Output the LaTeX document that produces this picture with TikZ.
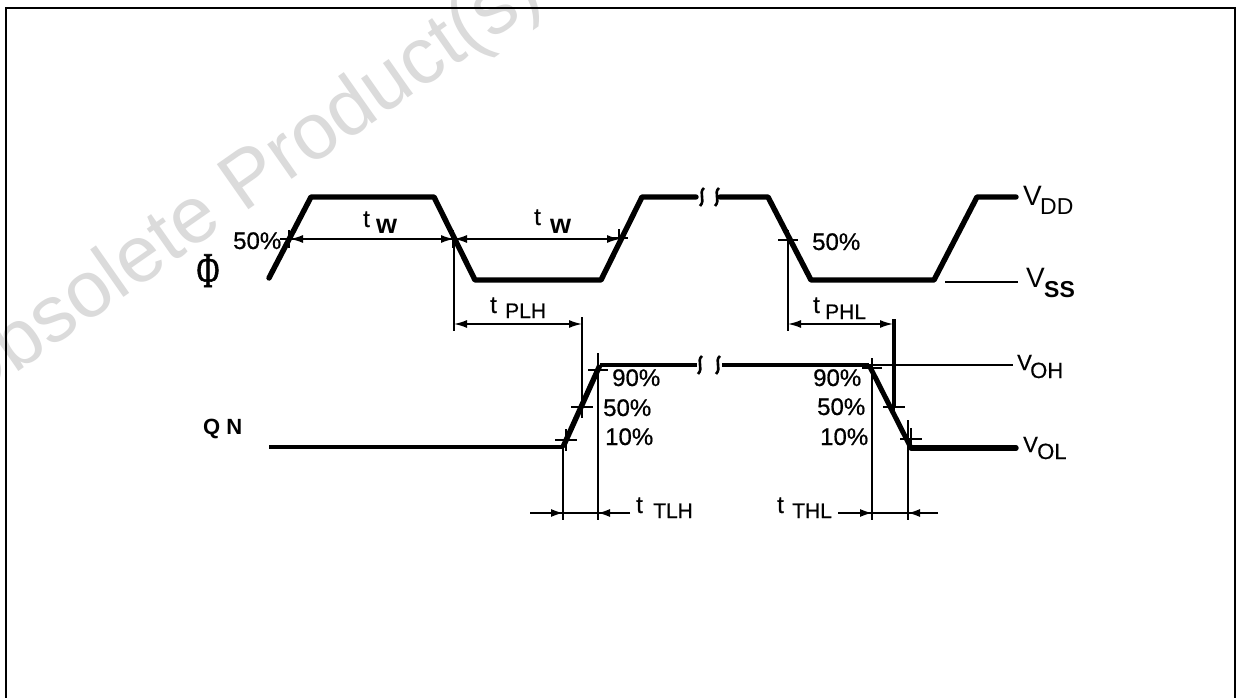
\documentclass[tikz,border=0pt]{standalone}
\usepackage{fontspec}
\setmainfont{Liberation Sans}
\newfontfamily\semi[FakeBold=0.6]{Liberation Sans}
\newfontfamily\phifont[FakeBold=1.2]{Liberation Serif}
\usetikzlibrary{arrows.meta}
\tikzset{
  wave/.style={line width=5.4pt,line join=round,line cap=round},
  medwave/.style={line width=4pt},
  thin line/.style={line width=1.8pt},
  dim/.style={line width=1.6pt,{Latex[length=13pt,width=8pt]}-{Latex[length=13pt,width=8pt]}},
  dimr/.style={line width=1.6pt,-{Latex[length=12pt,width=8pt]}},
  lab/.style={inner sep=0pt,anchor=base west,font=\semi\fontsize{24}{24}\selectfont},
  sublab/.style={lab,font=\semi\fontsize{21}{21}\selectfont},
  wlab/.style={lab,font=\bfseries\fontsize{27}{27}\selectfont},
  brk/.style={line width=2.6pt},
  tick/.style={line width=1.1pt},
}
\begin{document}
\begin{tikzpicture}[x=1pt,y=-1pt]
\useasboundingbox (0,0) rectangle (1237,698);
\fill[white] (0,0) rectangle (1237,698);
\begin{scope}
\clip (0,0) rectangle (1237,698);
\node[rotate=35,anchor=base west,inner sep=0pt,text=black!14,font=\fontsize{80}{80}\selectfont] (mark) at (-37,410) {Obsolete Product(s)};
\end{scope}
\draw[line width=2.2pt] (6.3,700) -- (6.3,8) -- (1235,8) -- (1235,700);
% Phi waveform
\coordinate (a0) at (269,278); \coordinate (a1) at (311,197); \coordinate (a2) at (434,197);
\coordinate (a3) at (475,280); \coordinate (a4) at (601,280); \coordinate (a5) at (642,197);
\coordinate (a6) at (696,197); \coordinate (a7) at (720,197); \coordinate (a8) at (768,197);
\coordinate (a9) at (811,280); \coordinate (a10) at (934,280); \coordinate (a11) at (977,197);
\coordinate (a12) at (1016,197);
\draw[wave] (a0) -- (a1) -- (a2) -- (a3) -- (a4) -- (a5) -- (a6);
\draw[wave] (a7) -- (a8) -- (a9) -- (a10) -- (a11) -- (a12);
\coordinate (vs) at (945,282); \coordinate (vs2) at (1018,282);
\draw[thin line] (vs) -- (vs2);
% break marks
\foreach \x/\y in {702/197,717/197,700/365,718/365}{
  \draw[brk] (\x+2,\y-9) .. controls (\x-4,\y-4) and (\x+4,\y+3) .. (\x-2,\y+9);
}
% QN waveform
\coordinate (q0) at (269,447); \coordinate (q1) at (563,447); \coordinate (q2) at (600,365);
\coordinate (q3) at (697,365); \coordinate (q4) at (722,365); \coordinate (q5) at (869,365);
\coordinate (q6) at (911,448); \coordinate (q7) at (1016,448); \coordinate (q8) at (1013,365);
\draw[line width=4.8pt] (q0) -- (q1);
\draw[line width=5.4pt] (q1) -- (q2);
\draw[medwave] (q2) -- (q3);
\draw[medwave] (q4) -- (q5);
\draw[line width=5pt] (q5) -- (q6);
\draw[line width=5.4pt,line cap=round] (q6) -- (q7);
\draw[thin line] (q5) -- (q8);
% t_W dimensions
\coordinate (w0) at (290,239); \coordinate (w1) at (454,239); \coordinate (w2) at (620,239);
\draw[dim] (w0) -- (w1);
\draw[dim] (w1) -- (w2);
% tPLH
\coordinate (p0) at (454,331); \coordinate (p1) at (582,317); \coordinate (p2) at (582,408);
\coordinate (ph) at (454,324); \coordinate (ph2) at (582,324);
\draw[line width=2pt] (w1) -- (p0);
\draw[line width=2pt] (p1) -- (p2);
\draw[dim] (ph) -- (ph2);
% tPHL
\coordinate (r0) at (788,239); \coordinate (r1) at (788,331); \coordinate (r2) at (894,319); \coordinate (r3) at (894,407);
\coordinate (rh) at (788,324); \coordinate (rh2) at (893,324);
\draw[line width=2.4pt] (r0) -- (r1);
\draw[line width=3.4pt] (r2) -- (r3);
\draw[dim] (rh) -- (rh2);
% ticks
\foreach \x/\y/\r in {289/239/9,453/239/9,619/238/9,788/240/10,582/407/11,566/440/11,598/370/10,894/407/11,872/368/10,911/439/11}{
  \draw[tick] (\x-\r,\y) -- (\x+\r,\y);
  \draw[tick] (\x,\y-\r) -- (\x,\y+\r);
}
% tTLH
\coordinate (l0) at (563,447); \coordinate (l1) at (563,520); \coordinate (l2) at (598,353); \coordinate (l3) at (598,520);
\coordinate (lh0) at (530,513); \coordinate (lh1) at (563,513); \coordinate (lh2) at (598,513); \coordinate (lh3) at (630,513);
\draw[line width=1.8pt] (l0) -- (l1);
\draw[line width=1.8pt] (l2) -- (l3);
\draw[line width=1.6pt] (lh0) -- (lh3);
\draw[dimr] (lh0) -- (lh1);
\draw[dimr] (lh3) -- (lh2);
% tTHL
\coordinate (k0) at (872,365); \coordinate (k1) at (872,520); \coordinate (k2) at (908,420); \coordinate (k3) at (908,520);
\coordinate (kh0) at (838,513); \coordinate (kh1) at (872,513); \coordinate (kh2) at (908,513); \coordinate (kh3) at (938,513);
\draw[line width=1.8pt] (k0) -- (k1);
\draw[line width=1.8pt] (k2) -- (k3);
\draw[line width=1.6pt] (kh0) -- (kh3);
\draw[dimr] (kh0) -- (kh1);
\draw[dimr] (kh3) -- (kh2);
% labels
\node[lab] (p50a) at (233,249) {50\%};
\node[inner sep=0pt,anchor=base,font=\phifont\fontsize{50}{50}\selectfont,xscale=0.62,transform shape] (phi) at (208,287) {Φ};
\node[lab] (tw1) at (363,227) {t};
\node[wlab] (tw1b) at (376,233) {w};
\node[lab] (tw2) at (534,225) {t};
\node[wlab] (tw2b) at (550,233) {w};
\node[lab] (tplh) at (490,313) {t};
\node[sublab] (tplhb) at (505,318) {PLH};
\node[lab] (p50b) at (812,250) {50\%};
\node[lab] (tphl) at (813,313) {t};
\node[sublab] (tphlb) at (825,319) {PHL};
\node[lab,font=\fontsize{28}{28}\selectfont] (vdd) at (1023,205) {V};
\node[lab,font=\fontsize{23}{23}\selectfont] (vddb) at (1040,214) {DD};
\node[lab,font=\fontsize{28}{28}\selectfont] (vss) at (1026,287) {V};
\node[lab,font=\bfseries\fontsize{23}{23}\selectfont] (vssb) at (1044,297) {SS};
\node[lab,font=\semi\fontsize{22}{22}\selectfont] (voh) at (1017,370) {V};
\node[lab,font=\semi\fontsize{22}{22}\selectfont] (vohb) at (1030,378) {OH};
\node[lab,font=\semi\fontsize{22}{22}\selectfont] (vol) at (1023,452) {V};
\node[lab,font=\semi\fontsize{22}{22}\selectfont] (volb) at (1037,459) {OL};
\node[lab,font=\bfseries\fontsize{22}{22}\selectfont] (qn) at (203,434) {Q N};
\node[lab] (r90) at (612,386) {90\%};
\node[lab] (r50) at (603,416) {50\%};
\node[lab] (r10) at (605,445) {10\%};
\node[lab] (f90) at (813,386) {90\%};
\node[lab] (f50) at (817,415) {50\%};
\node[lab] (f10) at (820,445) {10\%};
\node[lab] (ttlh) at (636,513) {t};
\node[sublab] (ttlhb) at (653,518) {TLH};
\node[lab] (tthl) at (777,513) {t};
\node[sublab] (tthlb) at (792,518) {THL};
\end{tikzpicture}
\end{document}
